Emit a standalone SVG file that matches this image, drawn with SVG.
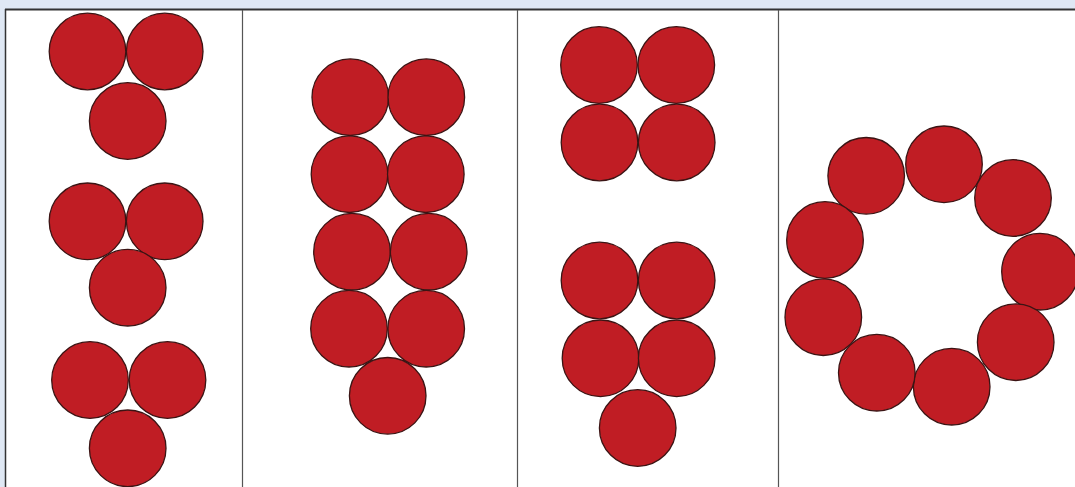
<svg xmlns="http://www.w3.org/2000/svg" width="1075" height="487" viewBox="0 0 1075 487">
<style>
.c{fill:#c01d24;stroke:#3b1414;stroke-width:1.3}
.col{stroke:#555;stroke-width:1.2}
</style>
<rect x="0" y="0" width="1075" height="487" fill="#dfe8f4"/>
<rect x="5.5" y="9.5" width="1075" height="480" fill="#ffffff"/>
<line x1="5" y1="9.5" x2="1075" y2="9.5" stroke="#333" stroke-width="1.8"/>
<line x1="5.5" y1="9" x2="5.5" y2="487" stroke="#333" stroke-width="1.5"/>
<g id="grid">
<line class="col" x1="242.5" y1="10" x2="242.5" y2="487"/>
<line class="col" x1="517.5" y1="10" x2="517.5" y2="487"/>
<line class="col" x1="778.5" y1="10" x2="778.5" y2="487"/>
</g>
<g id="col1">
<g id="c1g1">
<circle class="c" cx="87.5" cy="51.5" r="38.3"/>
<circle class="c" cx="164.7" cy="51.5" r="38.3"/>
<circle class="c" cx="127.7" cy="121" r="38.3"/>
</g>
<g id="c1g2">
<circle class="c" cx="87.5" cy="221.3" r="38.3"/>
<circle class="c" cx="164.7" cy="221.3" r="38.3"/>
<circle class="c" cx="127.7" cy="287.7" r="38.3"/>
</g>
<g id="c1g3">
<circle class="c" cx="90" cy="380" r="38.3"/>
<circle class="c" cx="167.5" cy="380" r="38.3"/>
<circle class="c" cx="127.7" cy="448.3" r="38.3"/>
</g>
</g>
<g id="col2">
<circle class="c" cx="350.3" cy="97.2" r="38.3"/>
<circle class="c" cx="426.3" cy="97.2" r="38.3"/>
<circle class="c" cx="349.5" cy="174.2" r="38.3"/>
<circle class="c" cx="425.8" cy="174.2" r="38.3"/>
<circle class="c" cx="352" cy="251.7" r="38.3"/>
<circle class="c" cx="428.7" cy="251.7" r="38.3"/>
<circle class="c" cx="349" cy="328.7" r="38.3"/>
<circle class="c" cx="426.2" cy="328.7" r="38.3"/>
<circle class="c" cx="387.7" cy="395.8" r="38.3"/>
</g>
<g id="col3">
<g id="c3g1">
<circle class="c" cx="599" cy="65" r="38.3"/>
<circle class="c" cx="676.3" cy="65" r="38.3"/>
<circle class="c" cx="599.5" cy="142.5" r="38.3"/>
<circle class="c" cx="676.7" cy="142.5" r="38.3"/>
</g>
<g id="c3g2">
<circle class="c" cx="599.5" cy="280.5" r="38.3"/>
<circle class="c" cx="676.7" cy="280.5" r="38.3"/>
<circle class="c" cx="600.5" cy="358.3" r="38.3"/>
<circle class="c" cx="676.7" cy="358.3" r="38.3"/>
<circle class="c" cx="637.7" cy="428" r="38.3"/>
</g>
</g>
<g id="col4">
<circle class="c" cx="866.2" cy="175.8" r="38.3"/>
<circle class="c" cx="944" cy="164.3" r="38.3"/>
<circle class="c" cx="1013" cy="198" r="38.3"/>
<circle class="c" cx="1040" cy="271.7" r="38.3"/>
<circle class="c" cx="1015.7" cy="342.2" r="38.3"/>
<circle class="c" cx="951.7" cy="386.7" r="38.3"/>
<circle class="c" cx="876.8" cy="372.7" r="38.3"/>
<circle class="c" cx="823.3" cy="317.2" r="38.3"/>
<circle class="c" cx="825" cy="240" r="38.3"/>
</g>
</svg>
